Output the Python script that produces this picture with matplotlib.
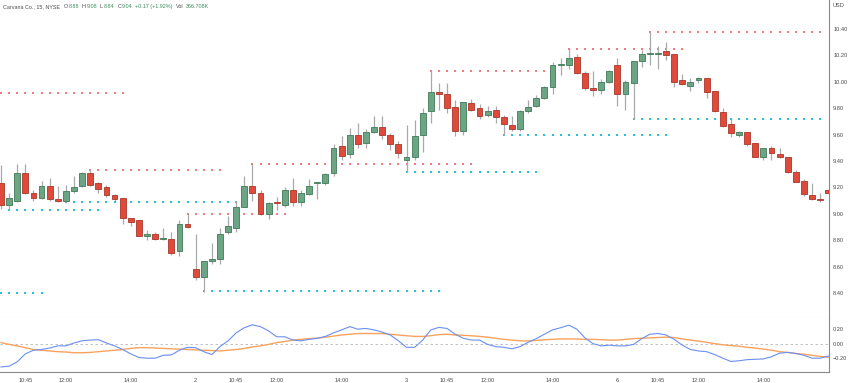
import matplotlib
matplotlib.use("Agg")
import matplotlib.pyplot as plt
import numpy as np

W, H = 851, 383

# ---------------- data ----------------
opens = [9.23,9.07,9.10,9.31,9.16,9.12,9.21,9.11,9.10,9.17,
 9.21,9.31,9.23,9.20,9.14,9.12,8.97,8.95,8.83,8.85,
 8.81,8.81,8.72,8.92,8.58,8.52,8.64,8.66,8.86,8.89,
 9.05,9.21,9.16,9.00,9.09,9.07,9.18,9.09,9.15,9.23,
 9.23,9.31,9.51,9.45,9.60,9.54,9.62,9.66,9.60,9.53,
 9.41,9.43,9.60,9.78,9.92,9.91,9.81,9.63,9.84,9.80,
 9.75,9.79,9.73,9.67,9.64,9.78,9.82,9.88,9.96,10.125,
 10.13,10.19,10.07,9.95,9.94,10.00,10.13,9.91,9.99,10.16,
 10.21,10.21,10.23,10.21,10.01,9.97,10.01,10.03,9.93,9.77,
 9.68,9.60,9.62,9.54,9.43,9.50,9.45,9.43,9.32,9.25,
 9.14,9.115,9.18]
highs = [9.37,9.16,9.38,9.38,9.18,9.25,9.27,9.21,9.22,9.29,
 9.32,9.34,9.24,9.22,9.15,9.12,8.97,8.95,8.88,8.86,
 8.89,8.86,8.95,9.00,8.85,8.64,8.78,8.89,8.98,9.10,
 9.29,9.38,9.18,9.09,9.13,9.20,9.27,9.18,9.26,9.24,
 9.31,9.53,9.59,9.65,9.69,9.64,9.74,9.74,9.61,9.55,
 9.67,9.71,9.80,10.08,9.99,9.99,9.86,9.85,9.87,9.83,
 9.82,9.82,9.75,9.74,9.79,9.86,9.90,9.97,10.15,10.18,
 10.25,10.21,10.08,10.08,10.02,10.09,10.18,10.01,10.16,10.24,
 10.38,10.27,10.30,10.21,10.06,10.03,10.04,10.03,9.93,9.80,
 9.72,9.63,9.62,9.54,9.50,9.51,9.50,9.43,9.33,9.26,
 9.23,9.16,9.18]
lows = [9.04,9.03,9.09,9.15,9.10,9.11,9.10,9.09,9.08,9.16,
 9.20,9.21,9.16,9.13,9.10,8.92,8.91,8.83,8.80,8.80,
 8.80,8.69,8.68,8.89,8.50,8.41,8.62,8.62,8.85,8.86,
 9.05,9.10,8.99,8.96,9.03,9.05,9.06,9.06,9.14,9.11,
 9.22,9.29,9.41,9.42,9.50,9.50,9.61,9.57,9.48,9.42,
 9.32,9.41,9.47,9.69,9.79,9.76,9.59,9.60,9.78,9.72,
 9.73,9.69,9.60,9.63,9.63,9.76,9.81,9.87,9.91,10.05,
 10.10,10.06,9.94,9.89,9.91,9.99,9.82,9.79,9.72,10.11,
 10.13,10.10,10.165,9.96,9.975,9.93,9.99,9.88,9.77,9.66,
 9.58,9.58,9.51,9.43,9.41,9.41,9.425,9.31,9.24,9.135,
 9.105,9.09,9.155]
closes = [9.07,9.12,9.31,9.16,9.12,9.21,9.11,9.10,9.17,9.20,
 9.31,9.22,9.19,9.14,9.11,8.97,8.94,8.83,8.85,8.81,
 8.82,8.70,8.92,8.90,8.52,8.64,8.66,8.85,8.91,9.05,
 9.21,9.16,9.00,9.08,9.08,9.18,9.09,9.16,9.21,9.235,
 9.30,9.50,9.44,9.60,9.53,9.62,9.66,9.60,9.53,9.46,
 9.43,9.59,9.76,9.92,9.91,9.80,9.63,9.85,9.79,9.74,
 9.78,9.73,9.68,9.64,9.78,9.81,9.88,9.96,10.13,10.13,
 10.18,10.07,9.95,9.94,10.00,10.08,9.91,10.00,10.16,10.21,
 10.215,10.22,10.20,10.00,9.98,10.00,10.03,9.92,9.78,9.665,
 9.61,9.62,9.53,9.43,9.50,9.46,9.43,9.32,9.24,9.15,
 9.11,9.105,9.155]

# oscillator panel
fast_line = [-0.32,-0.31,-0.25,-0.14,-0.09,-0.08,-0.06,-0.03,-0.03,0.01,
 0.04,0.05,0.055,0.01,-0.03,-0.08,-0.14,-0.19,-0.20,-0.20,
 -0.16,-0.155,-0.09,-0.05,-0.055,-0.11,-0.15,-0.04,0.04,0.15,
 0.22,0.26,0.235,0.175,0.095,0.095,0.05,0.04,0.06,0.075,
 0.10,0.15,0.19,0.235,0.20,0.21,0.19,0.16,0.12,0.04,
 -0.05,-0.05,0.05,0.19,0.225,0.21,0.13,0.075,0.05,0.05,
 -0.01,-0.04,-0.05,-0.07,-0.04,0.02,0.07,0.13,0.19,0.22,
 0.255,0.20,0.08,0.0,-0.03,-0.02,-0.03,-0.03,-0.01,0.07,
 0.13,0.14,0.12,0.06,-0.02,-0.08,-0.10,-0.11,-0.15,-0.20,
 -0.245,-0.235,-0.22,-0.215,-0.21,-0.18,-0.13,-0.12,-0.135,-0.16,
 -0.20,-0.20,-0.17]
slow_line = [0.015,-0.01,-0.03,-0.055,-0.08,-0.09,-0.10,-0.11,-0.115,-0.125,
 -0.125,-0.12,-0.11,-0.10,-0.09,-0.08,-0.065,-0.055,-0.055,-0.06,
 -0.065,-0.07,-0.075,-0.08,-0.085,-0.09,-0.095,-0.10,-0.09,-0.08,
 -0.065,-0.045,-0.03,-0.01,0.015,0.03,0.05,0.06,0.07,0.075,
 0.09,0.105,0.12,0.13,0.14,0.14,0.14,0.14,0.13,0.12,
 0.11,0.10,0.10,0.11,0.125,0.13,0.12,0.115,0.11,0.10,
 0.09,0.075,0.06,0.05,0.04,0.037,0.045,0.055,0.06,0.065,
 0.065,0.065,0.06,0.06,0.055,0.05,0.05,0.06,0.07,0.075,
 0.08,0.085,0.09,0.085,0.065,0.05,0.035,0.02,0.0,-0.015,
 -0.025,-0.035,-0.05,-0.06,-0.075,-0.09,-0.11,-0.12,-0.135,-0.145,
 -0.16,-0.175,-0.185]

# pivot high / low levels
level_price = [9.915, 8.40, 9.03, 9.332, 9.087, 8.998, 8.415, 9.375, 9.319, 10.082, 9.597, 10.252, 10.38, 9.718]
level_start = [0, 0, 1, 11, 8, 23, 25, 31, 50, 53, 62, 70, 80, 78]
level_end = [15, 5, 12, 27, 29, 35, 54, 58, 66, 67, 82, 84, 101, 101]
level_kind = ['high', 'low', 'low', 'high', 'low', 'high', 'low', 'high', 'low', 'high', 'low', 'high', 'high', 'low']

tick_bars = [3, 8, 16, 24, 29, 34, 42, 50, 55, 60, 68, 76, 81, 86, 94]
tick_labels = ['10:45', '12:00', '14:00', '2', '10:45', '12:00', '14:00', '3',
               '10:45', '12:00', '14:00', '6', '10:45', '12:00', '14:00']
price_ticks = [8.40, 8.60, 8.80, 9.00, 9.20, 9.40, 9.60, 9.80, 10.00, 10.20, 10.40]
osc_ticks = [-0.20, 0.00, 0.20]

# ---------------- style ----------------
plt.rcParams['font.family'] = ['Liberation Sans', 'DejaVu Sans']
TXT = '#4a4a4a'
UP_FACE, UP_EDGE = '#6ba583', '#3f7a58'
DN_FACE, DN_EDGE = '#e04a3a', '#a8372b'
WICK = '#a9a9a9'
RED_DOT = '#f47a80'
CYAN_DOT = '#22c4dc'

fig = plt.figure(figsize=(W / 100, H / 100), dpi=100)
fig.patch.set_facecolor('white')

right_px = 828.5
main_top, main_bot = 0, 318
osc_top, osc_bot = 318, 372
ax = fig.add_axes([0, 1 - main_bot / H, right_px / W, (main_bot - main_top) / H])
ax2 = fig.add_axes([0, 1 - osc_bot / H, right_px / W, (osc_bot - osc_top) / H], sharex=ax)

n = len(opens)
idx = np.arange(n)
o = np.array(opens); c = np.array(closes); hi = np.array(highs); lo = np.array(lows)
up = c >= o

ax.vlines(idx, lo, hi, color=WICK, lw=0.9, zorder=2)
bottoms = np.minimum(o, c)
heights = np.maximum(np.abs(c - o), 0.008)
ax.bar(idx[up], heights[up], bottom=bottoms[up], width=0.72,
       color=UP_FACE, edgecolor=UP_EDGE, linewidth=0.6, zorder=3)
ax.bar(idx[~up], heights[~up], bottom=bottoms[~up], width=0.72,
       color=DN_FACE, edgecolor=DN_EDGE, linewidth=0.6, zorder=3)

for p, s, e, k in zip(level_price, level_start, level_end, level_kind):
    xs = np.arange(s, e + 1)
    ax.plot(xs, [p] * len(xs), ls='none', marker='s', ms=1.5, mew=0,
            color=RED_DOT if k == 'high' else CYAN_DOT, zorder=1)

ax.set_xlim(-0.123, 102.03)
ax.set_ylim(8.2106, 10.6197)
ax.yaxis.tick_right()
ax.set_yticks(price_ticks)
ax.set_yticklabels([f'{v:.2f}' for v in price_ticks])
ax.tick_params(axis='y', length=0, pad=3.4, labelsize=4.1, labelcolor=TXT)
ax.tick_params(axis='x', length=0, labelbottom=False)
for sp in ['left', 'top']:
    ax.spines[sp].set_visible(False)
ax.spines['bottom'].set_color('#e3e5ea')
ax.spines['bottom'].set_linewidth(0.8)
ax.spines['right'].set_color('#8a8a8a')
ax.spines['right'].set_linewidth(0.8)

# oscillator
ax2.axhline(0, color='#b8b8b8', lw=0.6, ls=(0, (3, 3)), zorder=1)
ax2.plot(idx, slow_line, color='#f8a25e', lw=1.0, zorder=2)
ax2.plot(idx, fast_line, color='#6b8ff2', lw=0.8, zorder=3)
ax2.set_ylim(-0.390, 0.354)
ax2.yaxis.tick_right()
ax2.set_yticks(osc_ticks)
ax2.set_yticklabels([f'{v:.2f}'.replace('-', '\u2212') for v in osc_ticks])
ax2.tick_params(axis='y', length=0, pad=3.4, labelsize=4.1, labelcolor=TXT)
ax2.set_xticks(tick_bars)
ax2.set_xticklabels(tick_labels)
ax2.tick_params(axis='x', length=0, pad=4.2, labelsize=4.1, labelcolor=TXT)
ax2.spines['left'].set_visible(False)
ax2.spines['top'].set_visible(False)
ax2.spines['bottom'].set_color('#8a8a8a')
ax2.spines['bottom'].set_linewidth(0.8)
ax2.spines['right'].set_color('#8a8a8a')
ax2.spines['right'].set_linewidth(0.8)

# header
GREEN = '#3b8b5e'
def ptext(x, y, s, color, size=3.9):
    fig.text(x / W, 1 - y / H, s, color=color, fontsize=size, va='center', ha='left')

ptext(3, 6.5, 'Carvana Co., 15, NYSE', TXT)
ptext(64, 6.5, 'O', TXT); ptext(68.5, 6.5, '8.88', GREEN)
ptext(82, 6.5, 'H', TXT); ptext(86.5, 6.5, '9.08', GREEN)
ptext(100, 6.5, 'L', TXT); ptext(103.5, 6.5, '8.84', GREEN)
ptext(118, 6.5, 'C', TXT); ptext(122, 6.5, '9.04', GREEN)
ptext(135, 6.5, '+0.17 (+1.92%)', GREEN)
ptext(176, 6.5, 'Vol', TXT); ptext(185.5, 6.5, '366.708K', GREEN)
ptext(833, 5.5, 'USD', TXT, 4.1)

fig.savefig('out.png', dpi=100, facecolor='white')
